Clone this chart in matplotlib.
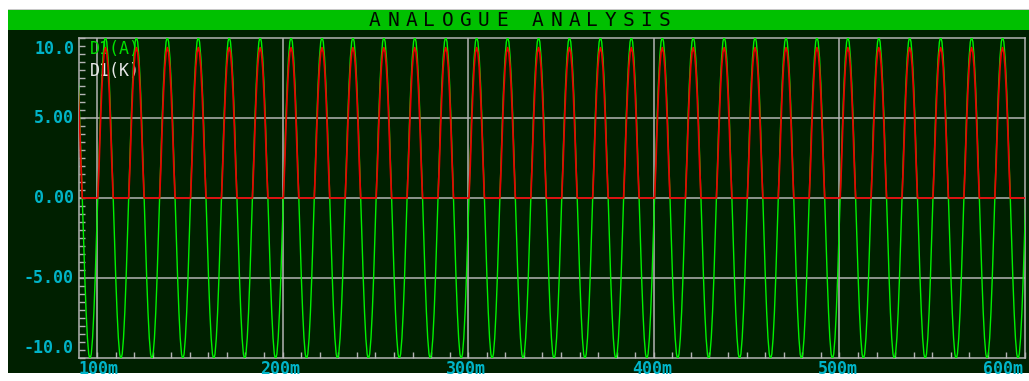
import numpy as np
import matplotlib
matplotlib.use("Agg")
import matplotlib.pyplot as plt
from matplotlib.patches import Rectangle
from matplotlib.transforms import offset_copy

# --- data (time in ms, volts) ---
period_ms = 16.667          # 60 Hz mains
first_rise_ms = 83.73       # an upward zero crossing just before the visible window
n_cycles = 32
# one cycle of D1(A), 24 samples, starting at the upward zero crossing
anode_cycle = [0.0, 2.6, 5.05, 7.15, 8.75, 9.75, 10.1, 9.75, 8.75, 7.15, 5.05, 2.6,
               0.0, -2.6, -5.05, -7.15, -8.75, -9.75, -10.1, -9.75, -8.75, -7.15, -5.05, -2.6]
# one cycle of D1(K): half wave, roughly one diode drop below the anode
cathode_cycle = [0.0, 2.0, 4.45, 6.55, 8.15, 9.1, 9.4, 9.1, 8.15, 6.55, 4.45, 2.0,
                 0.0, 0.0, 0.0, 0.0, 0.0, 0.0, 0.0, 0.0, 0.0, 0.0, 0.0, 0.0]

x_min, x_max = 90.3, 600.0
y_min, y_max = -10.0, 10.0
x_major = [100, 200, 300, 400, 500, 600]
x_labels = ["100m", "200m", "300m", "400m", "500m", "600m"]
y_major = [10.0, 5.0, 0.0, -5.0, -10.0]
y_labels = ["10.0", "5.00", "0.00", "-5.00", "-10.0"]
title = "ANALOGUE ANALYSIS"
traces = [("D1(A)", "#00E000"), ("D1(K)", "#E8E8E8")]

# colours
BG = "#002000"
BAR = "#00C000"
GRID = "#B4B4B4"
CYAN = "#00B4C8"
GREEN = "#00F000"
RED = "#E80000"

W, H = 1029, 381
fig = plt.figure(figsize=(W / 100, H / 100), dpi=100)
fig.patch.set_facecolor("white")


def fx(px):
    return px / W


def fy(py):
    return 1 - py / H


# window panel + title bar (behind the axes)
fig.add_artist(Rectangle((fx(8), fy(373)), fx(W) - fx(8), fy(30) - fy(373),
                         transform=fig.transFigure, facecolor=BG, edgecolor="none", zorder=-10))
fig.add_artist(Rectangle((fx(8), fy(30)), fx(W) - fx(8), fy(10) - fy(30),
                         transform=fig.transFigure, facecolor=BAR, edgecolor="none", zorder=-10))
fig.add_artist(Rectangle((fx(8), fy(10)), fx(W) - fx(8), fy(8.5) - fy(10),
                         transform=fig.transFigure, facecolor="#C8C8C8", edgecolor="none", zorder=-10))
for i, ch in enumerate(title):
    fig.text(fx(375 + 18.1 * i), fy(20.5), ch, ha="center", va="center",
             fontsize=14, family="DejaVu Sans Mono", color="#000800")

ax = fig.add_axes([fx(79), fy(358), fx(1025) - fx(79), fy(38) - fy(358)])
ax.set_facecolor(BG)
ax.set_xlim(x_min, x_max)
ax.set_ylim(y_min, y_max)

# grid
for xv in x_major[:-1]:
    ax.axvline(xv, color=GRID, lw=1.1, zorder=1)
for yv in y_major[1:-1]:
    ax.axhline(yv, color=GRID, lw=1.1, zorder=1)

# waveforms
n = len(anode_cycle) * n_cycles + 1
t = first_rise_ms + np.arange(n) * period_ms / len(anode_cycle)
v_anode = np.append(np.tile(anode_cycle, n_cycles), anode_cycle[0])
v_cathode = np.append(np.tile(cathode_cycle, n_cycles), cathode_cycle[0])
ax.plot(t, v_anode, color=GREEN, lw=1.0, zorder=3)
ax.plot(t, v_cathode, color=RED, lw=1.25, zorder=4)

# frame and inward ticks
for s in ax.spines.values():
    s.set_color(GRID)
    s.set_linewidth(1.1)
ax.set_xticks(np.arange(100, 601, 10))
ax.set_yticks(np.arange(-10, 10.01, 0.5))
ax.tick_params(axis="both", direction="in", length=4, width=1.0, color=GRID,
               labelbottom=False, labelleft=False, top=False, right=False)

# tick labels
ytr = ax.get_yaxis_transform()
for yv, lab in zip(y_major, y_labels):
    dy = 0
    if yv == y_max:
        dy = -11
    elif yv == y_min:
        dy = 10
    tr = offset_copy(ytr, fig=fig, x=-5, y=dy, units="dots")
    ax.text(0, yv, lab, transform=tr, ha="right", va="center", fontsize=12,
            family="DejaVu Sans Mono", fontweight="bold", color=CYAN, clip_on=False)

xtr = ax.get_xaxis_transform()
for i, (xv, lab) in enumerate(zip(x_major, x_labels)):
    if i == 0:
        tr = offset_copy(ax.transAxes, fig=fig, x=0, y=-11, units="dots")
        ax.text(0, 0, lab, transform=tr, ha="left", va="center", fontsize=12,
                family="DejaVu Sans Mono", fontweight="bold", color=CYAN)
    elif i == len(x_major) - 1:
        tr = offset_copy(ax.transAxes, fig=fig, x=-2, y=-11, units="dots")
        ax.text(1, 0, lab, transform=tr, ha="right", va="center", fontsize=12,
                family="DejaVu Sans Mono", fontweight="bold", color=CYAN)
    else:
        tr = offset_copy(xtr, fig=fig, x=-2, y=-11, units="dots")
        ax.text(xv, 0, lab, transform=tr, ha="center", va="center", fontsize=12,
                family="DejaVu Sans Mono", fontweight="bold", color=CYAN, clip_on=False)

# trace names in the top-left corner, under the traces as in the capture
for k, (name, col) in enumerate(traces):
    tr = offset_copy(ax.transAxes, fig=fig, x=11, y=-11 - 22 * k, units="dots")
    ax.text(0, 1, name, transform=tr, ha="left", va="center", fontsize=12,
            family="DejaVu Sans Mono", color=col, zorder=2)

fig.savefig("out.png", dpi=100, facecolor=fig.get_facecolor())
